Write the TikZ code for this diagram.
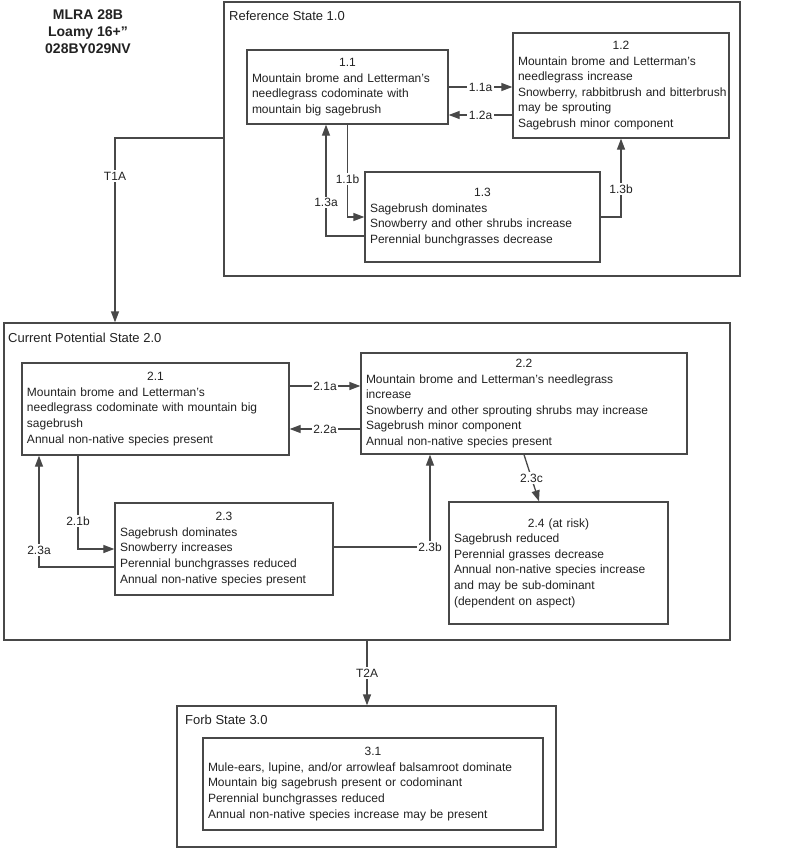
\documentclass[tikz,border=0pt]{standalone}
\usepackage{fontspec}
\setmainfont{Liberation Sans}
\usetikzlibrary{arrows.meta,calc}
\definecolor{linec}{HTML}{484848}
\definecolor{txtc}{HTML}{222222}
\newcommand\boxhead[1]{\makebox[\linewidth]{#1}\\}
\begin{document}
\begin{tikzpicture}[x=1bp,y=-1bp,
  statebox/.style={draw=linec, line width=1.3bp, inner sep=0pt},
  cbox/.style={draw=linec, line width=1.3bp, fill=white, inner xsep=5bp, inner ysep=0pt,
    align=left, font=\fontsize{12bp}{15.6bp}\selectfont, text=txtc,
    execute at begin node={\hyphenpenalty=10000\exhyphenpenalty=10000}},
  slbl/.style={inner sep=0pt, anchor=west, font=\fontsize{13bp}{15bp}\selectfont, text=txtc},
  lbl/.style={fill=white, inner sep=1.5bp, font=\fontsize{12bp}{14bp}\selectfont, text=txtc},
  arr/.style={draw=linec, line width=1.3bp, -{Triangle[length=11bp,width=8bp]}}]
\useasboundingbox (0,0) rectangle (800,849);
\fill[white] (0,0) rectangle (800,849);

% title
\node[font=\bfseries\fontsize{14bp}{17bp}\selectfont, align=center, text=txtc] (title) at (88,32) {MLRA 28B\\Loamy 16+”\\028BY029NV};

% state containers
\node[statebox, minimum width=516bp, minimum height=274bp] (b10) at (482,139) {};
\node[statebox, minimum width=726bp, minimum height=317bp] (b20) at (367,481.5) {};
\node[statebox, minimum width=379bp, minimum height=141bp] (b30) at (366.5,776.5) {};
\node[slbl] (l10) at (229,16) {Reference State 1.0};
\node[slbl] (l20) at (8,338) {Current Potential State 2.0};
\node[slbl] (l30) at (185,720) {Forb State 3.0};

% community boxes
\node[cbox, minimum width=201bp, minimum height=74bp, text width=191bp] (b11) at (347.5,87)
  {\boxhead{1.1}Mountain brome and Letterman’s\\needlegrass codominate with\\mountain big sagebrush};
\node[cbox, minimum width=216bp, minimum height=105bp, text width=206bp] (b12) at (621,85.5)
  {\boxhead{1.2}Mountain brome and Letterman’s\\needlegrass increase\\\mbox{Snowberry, rabbitbrush and bitterbrush}\\may be sprouting\\Sagebrush minor component};
\node[cbox, minimum width=235bp, minimum height=90bp, text width=225bp] (b13) at (482.5,217)
  {\boxhead{1.3}Sagebrush dominates\\Snowberry and other shrubs increase\\Perennial bunchgrasses decrease};

\node[cbox, minimum width=267bp, minimum height=92bp, text width=257bp] (b21) at (155.5,409)
  {\boxhead{2.1}Mountain brome and Letterman’s\\needlegrass codominate with mountain big\\sagebrush\\Annual non-native species present};
\node[cbox, minimum width=326bp, minimum height=101bp, text width=316bp] (b22) at (524,403.5)
  {\boxhead{2.2}Mountain brome and Letterman’s needlegrass\\increase\\Snowberry and other sprouting shrubs may increase\\Sagebrush minor component\\Annual non-native species present};
\node[cbox, minimum width=218bp, minimum height=92bp, text width=208bp] (b23) at (224,549)
  {\boxhead{2.3}Sagebrush dominates\\Snowberry increases\\Perennial bunchgrasses reduced\\Annual non-native species present};
\node[cbox, minimum width=219bp, minimum height=122bp, text width=209bp] (b24) at (558.5,563)
  {\boxhead{2.4 (at risk)}Sagebrush reduced\\Perennial grasses decrease\\\mbox{Annual non-native species increase}\\and may be sub-dominant\\(dependent on aspect)};

\node[cbox, minimum width=340bp, minimum height=92bp, text width=330bp] (b31) at (373,784)
  {\boxhead{3.1}Mule-ears, lupine, and/or arrowleaf balsamroot dominate\\Mountain big sagebrush present or codominant\\Perennial bunchgrasses reduced\\Annual non-native species increase may be present};

% reference state transitions
\draw[arr] (b11.east |- 0,87) -- node[lbl] (t11a) {1.1a} (b12.west |- 0,87);
\draw[arr] (b12.west |- 0,115) -- node[lbl] (t12a) {1.2a} (b11.east |- 0,115);
\draw[arr] (b11.south) |- node[lbl, pos=0.295] (t11b) {1.1b} (b13.west);
\draw[arr] (b13.west |- 0,236) -| node[lbl, pos=0.65] (t13a) {1.3a} (b11.south -| 326,0);
\draw[arr] (b13.east) -| node[lbl, pos=0.677] (t13b) {1.3b} (b12.south);

% T1A
\draw[arr] (b10.west |- 0,138) -| node[lbl, pos=0.603] (tt1a) {T1A} (b20.north -| 115,0);

% current potential state transitions
\draw[arr] (b21.east |- 0,386) -- node[lbl] (t21a) {2.1a} (b22.west |- 0,386);
\draw[arr] (b22.west |- 0,429) -- node[lbl] (t22a) {2.2a} (b21.east |- 0,429);
\draw[arr] (b21.south -| 78,0) |- node[lbl, pos=0.35] (t21b) {2.1b} (b23.west);
\draw[arr] (b23.west |- 0,567) -| node[lbl, pos=0.576] (t23a) {2.3a} (b21.south -| 39,0);
\draw[arr] (b23.east |- 0,547) -| node[lbl, pos=0.5] (t23b) {2.3b} (b22.south -| 430,0);
\draw[arr] (b22.south) -- node[lbl] (t23c) {2.3c} (b24.north -| 539,0);

% T2A
\draw[arr] (b20.south -| 367,0) -- node[lbl] (tt2a) {T2A} (b30.north -| 367,0);
\end{tikzpicture}
\end{document}
